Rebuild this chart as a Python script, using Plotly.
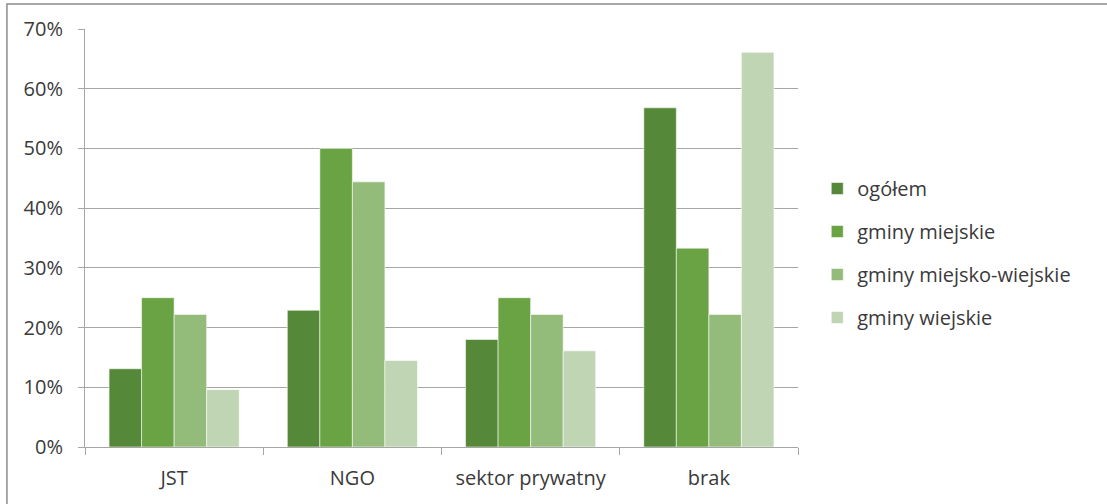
import plotly.graph_objects as go

categories = ["JST", "NGO", "sektor prywatny", "brak"]
series_names = ["ogółem", "gminy miejskie", "gminy miejsko-wiejskie", "gminy wiejskie"]
ogolem = [0.131, 0.229, 0.180, 0.568]
gminy_miejskie = [0.25, 0.50, 0.25, 0.333]
gminy_miejsko_wiejskie = [0.222, 0.444, 0.222, 0.222]
gminy_wiejskie = [0.096, 0.145, 0.161, 0.661]
colors = ["#558838", "#6AA343", "#93BB7A", "#BFD5B3"]

values = [ogolem, gminy_miejskie, gminy_miejsko_wiejskie, gminy_wiejskie]

FONT = "Open Sans"
TEXT = "#3A3A3A"

fig = go.Figure()
for name, vals, col in zip(series_names, values, colors):
    fig.add_trace(
        go.Bar(
            x=categories,
            y=vals,
            name=name,
            legendgroup=name,
            marker=dict(color=col, line=dict(color="rgba(255,255,255,0.7)", width=0.8)),
        )
    )

# outer frame of the chart object
fig.add_shape(
    type="rect", xref="paper", yref="paper",
    x0=-0.1095, x1=1.45, y0=-0.2, y1=1.0598,
    line=dict(color="#8C8C8C", width=1.5), fillcolor="rgba(0,0,0,0)",
)

fig.update_layout(
    width=1107,
    height=504,
    margin=dict(l=85, r=309, t=29, b=57),
    paper_bgcolor="white",
    plot_bgcolor="white",
    barmode="group",
    bargap=0.27,
    bargroupgap=0,
    font=dict(family=FONT, size=20, color=TEXT),
    legend=dict(
        x=1.027, y=0.665, xanchor="left", yanchor="top",
        font=dict(family=FONT, size=20, color=TEXT),
        tracegroupgap=14, itemwidth=30,
    ),
    xaxis=dict(
        showline=True, linecolor="#A6A6A6", linewidth=1,
        ticks="outside", tickson="boundaries", ticklen=7, tickcolor="#A6A6A6",
        showgrid=False, ticklabelstandoff=13,
    ),
    yaxis=dict(
        range=[0, 0.7], dtick=0.1, tickformat=".0%",
        showgrid=True, gridcolor="#A6A6A6", gridwidth=1,
        showline=True, linecolor="#A6A6A6", linewidth=1,
        ticks="outside", ticklen=6, tickcolor="#A6A6A6",
        ticklabelstandoff=11, zeroline=False,
    ),
)

fig.write_html(
    "out.html",
    config={"displayModeBar": False},
    post_script="document.body.style.margin='0';",
)
